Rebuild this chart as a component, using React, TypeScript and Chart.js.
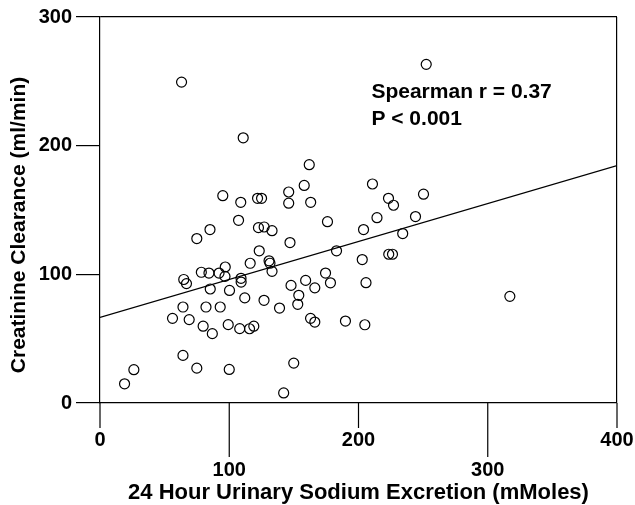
import React, { useEffect, useRef } from 'react';
import { Chart, registerables } from 'chart.js';

Chart.register(...registerables);

// Scatter data: 24 h urinary sodium (mMoles) vs creatinine clearance (ml/min)
const sodium = [
  63.1, 110.8, 252.4, 95.0, 108.9, 121.9, 125.0, 146.0, 146.0, 158.0,
  161.9, 163.0, 210.8, 223.2, 227.1, 250.3, 107.2, 122.6, 127.0, 133.1,
  85.1, 74.9, 176.0, 147.0, 123.2, 183.0, 214.3, 244.1, 203.9, 234.2,
  202.9, 223.4, 226.3, 116.2, 130.8, 131.5, 133.1, 96.9, 78.4, 84.3,
  92.1, 96.7, 109.1, 109.2, 64.8, 66.9, 85.3, 100.2, 147.8, 159.1,
  166.2, 174.5, 178.3, 205.8, 112.0, 126.9, 153.8, 153.0, 138.9, 64.2,
  82.0, 93.0, 56.1, 69.0, 79.8, 86.9, 99.2, 108.1, 115.7, 119.0,
  162.9, 166.2, 189.9, 204.9, 317.1, 64.2, 74.9, 100.0, 149.9, 142.1,
  26.2, 19.0,
];
const clearance = [
  249.4, 206.1, 263.2, 161.1, 156.0, 159.1, 159.1, 164.0, 155.3, 169.1,
  185.2, 156.0, 170.2, 159.1, 153.7, 162.3, 142.0, 136.3, 136.8, 133.9,
  134.8, 127.8, 140.9, 124.7, 118.3, 118.3, 144.0, 144.9, 134.8, 131.7,
  111.5, 115.6, 115.6, 108.6, 110.5, 108.6, 102.3, 105.7, 101.6, 101.0,
  101.0, 98.4, 96.9, 94.0, 96.0, 92.8, 88.6, 87.5, 91.4, 95.3,
  89.5, 101.0, 93.4, 93.5, 81.7, 79.8, 83.7, 76.7, 73.8, 74.6,
  74.6, 74.6, 65.8, 64.8, 59.7, 53.9, 60.9, 57.8, 57.7, 59.7,
  65.8, 62.9, 63.7, 60.8, 82.9, 37.0, 27.1, 26.1, 31.0, 7.8,
  25.9, 14.9,
];

// Regression line end points
const fitX = [0, 400];
const fitY = [66.5, 184.5];

const xTickLabels = ['0', '100', '200', '300', '400'];
const yTickLabels = ['0', '100', '200', '300'];
const xTitle = '24 Hour Urinary Sodium Excretion (mMoles)';
const yTitle = 'Creatinine Clearance (ml/min)';
const statLines = ['Spearman r = 0.37', 'P < 0.001'];
const statX = 210;
const statY = [237, 216];

const FONT = "'Liberation Sans', Arial, Helvetica, sans-serif";

export default function App() {
  const ref = useRef<HTMLCanvasElement>(null);

  useEffect(() => {
    const canvas = ref.current;
    if (!canvas) return;
    Chart.defaults.font.family = FONT;

    const extras = {
      id: 'extras',
      afterDraw(chart: any) {
        const { ctx, chartArea, scales } = chart;
        const x = scales.x;
        const y = scales.y;
        ctx.save();
        ctx.strokeStyle = '#000';
        ctx.lineWidth = 1.2;
        x.ticks.forEach((t: any, i: number) => {
          const px = x.getPixelForValue(t.value);
          ctx.beginPath();
          ctx.moveTo(px, chartArea.bottom);
          ctx.lineTo(px, chartArea.bottom + (i % 2 ? 54 : 25));
          ctx.stroke();
        });
        ctx.restore();

        ctx.save();
        ctx.translate(19, (chartArea.top + chartArea.bottom) / 2 + 15);
        ctx.rotate(-Math.PI / 2);
        ctx.font = `bold 21px ${FONT}`;
        ctx.textAlign = 'center';
        ctx.textBaseline = 'middle';
        ctx.fillStyle = '#000';
        ctx.fillText(yTitle, 0, 0);
        ctx.restore();

        ctx.save();
        ctx.font = `bold 21px ${FONT}`;
        ctx.textAlign = 'left';
        ctx.textBaseline = 'alphabetic';
        ctx.fillStyle = '#000';
        statLines.forEach((s, i) => {
          ctx.fillText(s, x.getPixelForValue(statX), y.getPixelForValue(statY[i]));
        });
        ctx.restore();
      },
    };

    const points = sodium.map((v, i) => ({ x: v, y: clearance[i] }));
    const line = fitX.map((v, i) => ({ x: v, y: fitY[i] }));

    const chart = new Chart(canvas, {
      type: 'scatter',
      data: {
        datasets: [
          {
            data: points,
            pointRadius: 5,
            pointHoverRadius: 5,
            pointStyle: 'circle',
            borderColor: '#000',
            borderWidth: 1.2,
            backgroundColor: 'rgba(0,0,0,0)',
          },
          {
            data: line,
            showLine: true,
            pointRadius: 0,
            borderColor: '#000',
            borderWidth: 1.2,
            backgroundColor: 'rgba(0,0,0,0)',
          },
        ],
      },
      options: {
        responsive: false,
        animation: false,
        events: [],
        layout: { padding: { top: 17, right: 18, left: 0, bottom: 0 } },
        plugins: { legend: { display: false }, tooltip: { enabled: false } },
        scales: {
          x: {
            type: 'linear',
            min: 0,
            max: 400,
            afterFit(s: any) {
              s.height = 102;
              s.paddingLeft = 0;
              s.paddingRight = 0;
            },
            ticks: {
              stepSize: 100,
              autoSkip: false,
              maxRotation: 0,
              padding: 22,
              color: '#000',
              font: { size: 20, weight: 'bold', lineHeight: 1.5 },
              callback: (_v: any, i: number) => (i % 2 ? ['', xTickLabels[i]] : xTickLabels[i]),
            },
            grid: {
              drawTicks: false,
              lineWidth: 1.2,
              color: (c: any) => (c.tick && c.tick.value === 400 ? '#000' : 'rgba(0,0,0,0)'),
            },
            border: { color: '#000', width: 1.2 },
            title: {
              display: true,
              text: xTitle,
              color: '#000',
              padding: { top: 0, bottom: -1 },
              font: { size: 22, weight: 'bold' },
            },
          },
          y: {
            type: 'linear',
            min: 0,
            max: 300,
            afterFit(s: any) {
              s.width = 100;
            },
            ticks: {
              stepSize: 100,
              padding: 4,
              color: '#000',
              font: { size: 20, weight: 'bold' },
              callback: (_v: any, i: number) => yTickLabels[i],
            },
            grid: {
              drawTicks: true,
              tickLength: 24,
              tickColor: '#000',
              tickWidth: 1.2,
              lineWidth: 1.2,
              color: (c: any) => (c.tick && c.tick.value === 300 ? '#000' : 'rgba(0,0,0,0)'),
            },
            border: { color: '#000', width: 1.2 },
          },
        },
      },
      plugins: [extras],
    } as any);

    return () => chart.destroy();
  }, []);

  return (
    <div style={{ position: 'absolute', left: 0, top: 0, width: 635, height: 505, background: '#fff' }}>
      <canvas ref={ref} width={635} height={505} style={{ display: 'block' }} />
    </div>
  );
}
